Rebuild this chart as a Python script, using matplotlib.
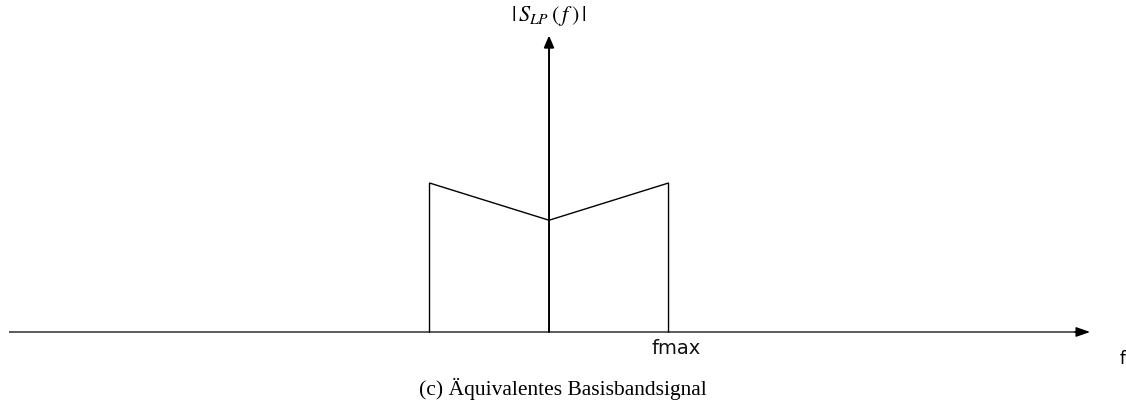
import matplotlib
matplotlib.use("Agg")
import matplotlib.pyplot as plt

# Spectrum of equivalent baseband signal (normalized)
freq = [-1.0, -1.0, 0.0, 1.0, 1.0]
magnitude = [0.0, 1.0, 0.75, 1.0, 0.0]
fmax_label = "fmax"
fmax_pos = 1.0
axis_label = "f"
caption = "(c) Äquivalentes Basisbandsignal"

fig = plt.figure(figsize=(11.26, 4.10), dpi=100)
ax = fig.add_axes([0, 0, 1, 1])
ax.set_xlim(-4.594, 4.828)
ax.set_ylim(-0.517, 2.235)
ax.axis("off")

# horizontal axis: grey line, black arrowhead
ax.plot([-4.519, 4.44], [0, 0], color="#5a5a5a", lw=1.4, solid_capstyle="butt")
ax.annotate("", xy=(4.527, 0), xytext=(4.40, 0),
            arrowprops=dict(arrowstyle="-|>,head_length=0.85,head_width=0.3",
                            color="black", lw=1.0, shrinkA=0, shrinkB=0))
# vertical axis
ax.annotate("", xy=(0, 1.99), xytext=(0, 0),
            arrowprops=dict(arrowstyle="-|>,head_length=0.7,head_width=0.3",
                            color="black", lw=1.4, shrinkA=0, shrinkB=0))

ax.plot(freq, magnitude, color="black", lw=1.0, solid_joinstyle="miter")

ax.text(0, 2.125, r"$|\,S_{LP}\,(\,f\;)\,|$", ha="center", va="center",
        fontsize=16, math_fontfamily="stix")
ax.text(fmax_pos * 1.06, -0.105, fmax_label, ha="center", va="center",
        fontsize=14, family="DejaVu Sans", color="#111111")
ax.text(4.80, -0.172, axis_label, ha="center", va="center",
        fontsize=12, family="DejaVu Sans")
ax.text(0.115, -0.376, caption, ha="center", va="center",
        fontsize=15.5, family="Liberation Serif")

fig.savefig("out.png", dpi=100)
